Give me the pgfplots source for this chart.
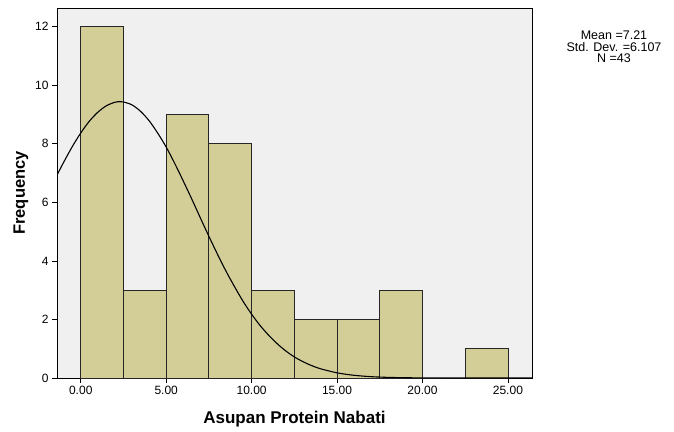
\documentclass[border=0pt]{standalone}
\usepackage{pgfplots}
\pgfplotsset{compat=1.18}
\usepackage{fontspec}
\setmainfont{Liberation Sans}
\definecolor{barfill}{RGB}{211,206,151}
\definecolor{bgc}{RGB}{240,240,240}
\begin{document}
\begin{tikzpicture}[x=1pt,y=1pt]
\path[use as bounding box] (0,0) rectangle (674,431);
\begin{axis}[
  at={(57pt,53pt)}, anchor=south west,
  scale only axis, width=475pt, height=370pt,
  xmin=-1.39, xmax=26.41, ymin=0, ymax=12.64,
  axis background/.style={fill=bgc},
  axis line style={black, line width=0.8pt},
  tick align=outside, tick pos=left,
  major tick length=5pt,
  tick style={black, line width=0.8pt},
  xtick={0,5,10,15,20,25},
  ytick={0,2,4,6,8,10,12},
  xticklabel style={/pgf/number format/.cd, fixed, fixed zerofill, precision=2},
  yticklabel style={/pgf/number format/.cd, fixed, precision=0},
  /pgf/number format/assume math mode=true,
  tick label style={font=\fontsize{12}{14}\selectfont},
  xlabel={\textbf{Asupan Protein Nabati}},
  ylabel={\textbf{Frequency}},
  xlabel style={font=\fontsize{17}{19}\selectfont, at={(ticklabel cs:0.5)}, yshift=-9pt},
  ylabel style={font=\fontsize{16.5}{18}\selectfont},
  clip=true,
]
\addplot[ybar interval, fill=barfill, draw=black!85, line width=0.8pt]
coordinates {(0,12) (2.5,3) (5,9) (7.5,8) (10,3) (12.5,2) (15,2) (17.5,3) (20,0) (22.5,1) (25,1)};
\addplot[black, line width=1.1pt, smooth] coordinates {
(-1.39,6.93) (-1,7.37) (-0.5,7.90) (0,8.37) (0.5,8.77) (1,9.08) (1.5,9.30) (2,9.42) (2.3,9.44)
(2.5,9.43) (3,9.33) (3.5,9.11) (4,8.79) (4.5,8.37) (5,7.89) (5.5,7.33) (6,6.73) (6.5,6.11)
(7,5.47) (7.5,4.84) (8,4.23) (8.5,3.65) (9,3.12) (9.5,2.62) (10,2.18) (10.5,1.79) (11,1.46)
(11.5,1.17) (12,0.925) (12.5,0.72) (13,0.559) (13.5,0.427) (14,0.321) (15,0.176) (16,0.092)
(17,0.045) (18,0.021) (19,0.0096) (20,0.004) (22,0.0005) (24,0.0) (26.41,0.0)};
\end{axis}
\node[align=center, font=\fontsize{12.5}{11.5}\selectfont] at (614,384) {Mean =7.21\\Std. Dev. =6.107\\N =43};
\end{tikzpicture}
\end{document}
